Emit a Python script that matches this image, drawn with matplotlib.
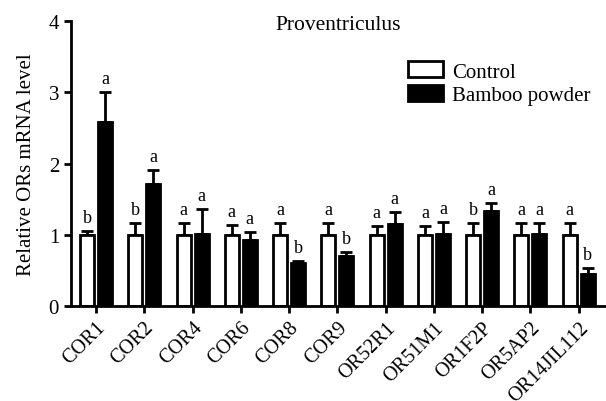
import numpy as np
import matplotlib.pyplot as plt

# Datos
genes = ['COR1', 'COR2', 'COR4', 'COR6', 'COR8', 'COR9', 'OR52R1', 'OR51M1',
         'OR1F2P', 'OR5AP2', 'OR14JIL112']
control = [1.0, 1.0, 1.0, 1.0, 1.0, 1.0, 1.0, 1.0, 1.0, 1.0, 1.0]
control_err = [0.05, 0.16, 0.16, 0.14, 0.16, 0.16, 0.12, 0.13, 0.16, 0.16, 0.16]
bamboo = [2.59, 1.71, 1.01, 0.93, 0.60, 0.71, 1.15, 1.01, 1.34, 1.01, 0.45]
bamboo_err = [0.41, 0.20, 0.35, 0.11, 0.03, 0.05, 0.17, 0.17, 0.11, 0.16, 0.09]
control_sig = ['b', 'b', 'a', 'a', 'a', 'a', 'a', 'a', 'b', 'a', 'a']
bamboo_sig = ['a', 'a', 'a', 'a', 'b', 'b', 'a', 'a', 'a', 'a', 'b']

plt.rcParams['font.family'] = ['Liberation Serif', 'DejaVu Serif']

x = np.arange(len(genes))
w = 0.29
off = 0.186

fig = plt.figure(figsize=(6.06, 4.02), dpi=100)
ax = fig.add_axes([0.117, 0.236, 0.881, 0.709])

ax.bar(x - off, control, w, color='white', edgecolor='black', linewidth=2,
       label='Control', zorder=2)
ax.bar(x + off, bamboo, w, color='black', edgecolor='black', linewidth=2,
       label='Bamboo powder', zorder=2)
ax.errorbar(x - off, control, yerr=[np.zeros(len(x)), control_err], fmt='none',
            ecolor='black', elinewidth=2, capsize=4, capthick=2, zorder=1)
ax.errorbar(x + off, bamboo, yerr=[np.zeros(len(x)), bamboo_err], fmt='none',
            ecolor='black', elinewidth=2, capsize=4, capthick=2, zorder=1)

for i in range(len(x)):
    ax.text(x[i] - off, control[i] + control_err[i] + 0.07, control_sig[i],
            ha='center', va='bottom', fontsize=13)
    ax.text(x[i] + off, bamboo[i] + bamboo_err[i] + 0.07, bamboo_sig[i],
            ha='center', va='bottom', fontsize=13)

ax.set_xlim(-0.52, 10.54)
ax.set_ylim(0, 4)
ax.set_yticks([0, 1, 2, 3, 4])
ax.set_xticks(x)
ax.set_xticklabels(genes, rotation=45, ha='right', rotation_mode='anchor')
ax.tick_params(axis='both', width=2, length=5, direction='out')
ax.tick_params(axis='y', labelsize=15)
ax.tick_params(axis='x', labelsize=14.5)
ax.spines['top'].set_visible(False)
ax.spines['right'].set_visible(False)
ax.spines['left'].set_linewidth(2)
ax.spines['bottom'].set_linewidth(2)
ax.set_ylabel('Relative ORs mRNA level', fontsize=15, labelpad=9)
ax.text(0.501, 0.989, 'Proventriculus', transform=ax.transAxes, ha='center',
        va='center', fontsize=15.5)
ax.legend(loc='upper right', bbox_to_anchor=(1.0, 0.91), frameon=False,
          fontsize=15, handlelength=1.7, handleheight=0.8, handletextpad=0.4,
          labelspacing=0.15, borderaxespad=0.3)

fig.savefig('out.png', dpi=100)
